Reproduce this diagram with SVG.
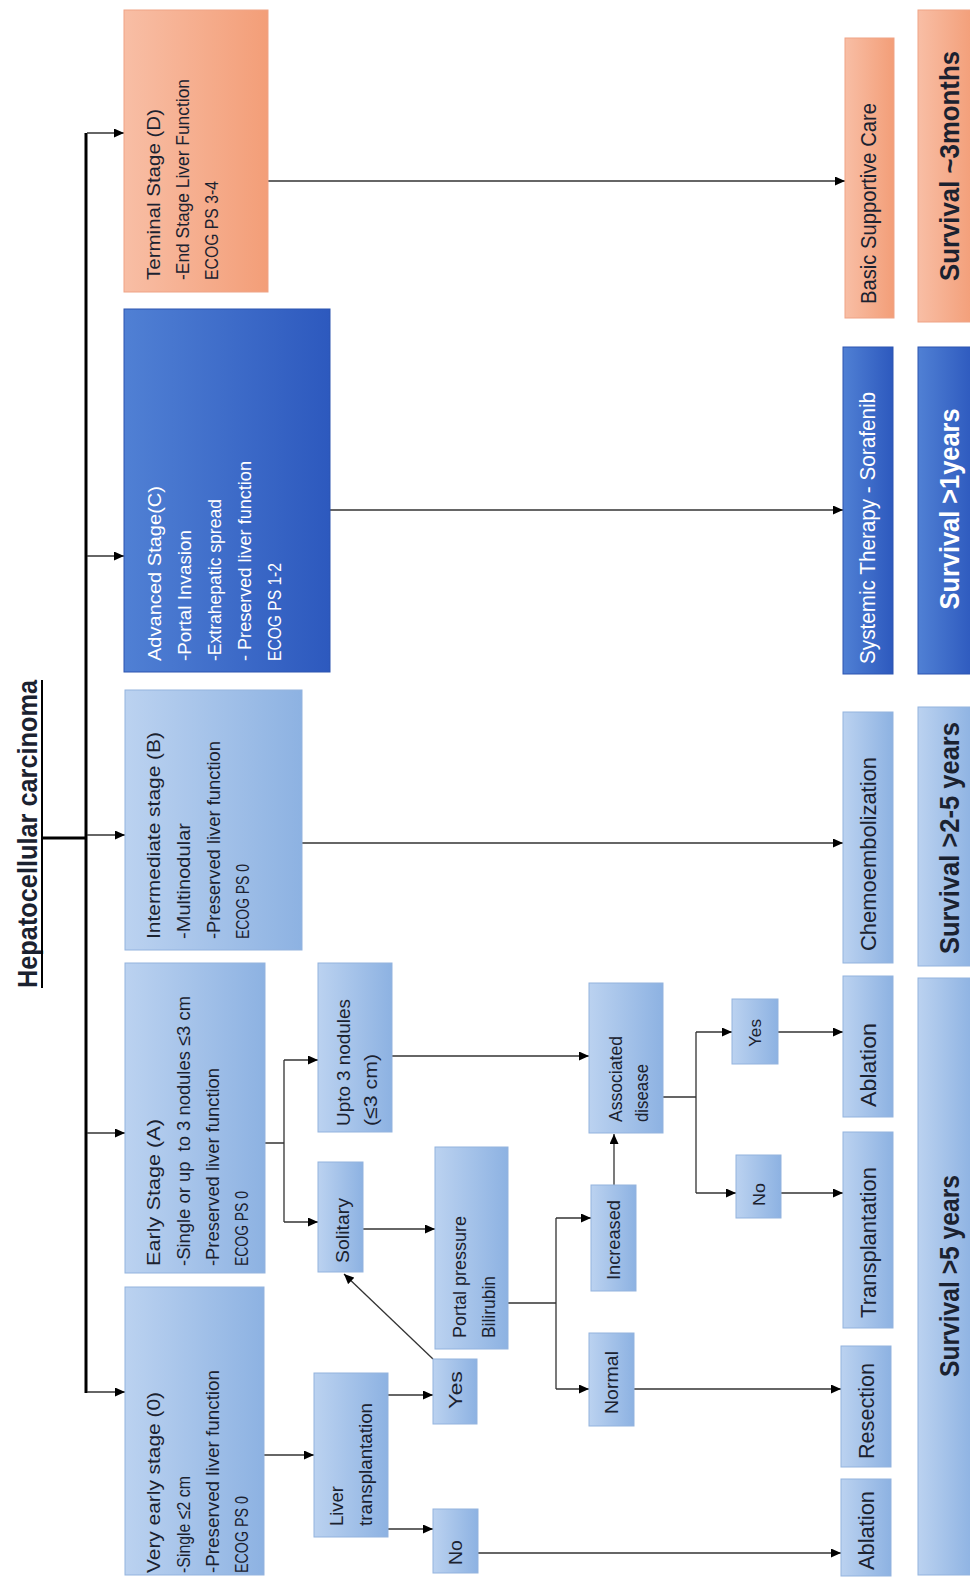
<svg xmlns="http://www.w3.org/2000/svg" width="970" height="1578" viewBox="0 0 970 1578">
<defs>
<linearGradient id="gLight" x1="0" y1="0" x2="1" y2="0"><stop offset="0" stop-color="#BBD2F0"/><stop offset="1" stop-color="#8DB2E2"/></linearGradient>
<linearGradient id="gBlue" x1="0" y1="0" x2="1" y2="0"><stop offset="0" stop-color="#5080D4"/><stop offset="1" stop-color="#2D59BE"/></linearGradient>
<linearGradient id="gSal" x1="0" y1="0" x2="1" y2="0"><stop offset="0" stop-color="#F8BEA5"/><stop offset="1" stop-color="#F39E78"/></linearGradient>
<marker id="ah" markerUnits="userSpaceOnUse" markerWidth="11" markerHeight="9" refX="10" refY="4.5" orient="auto"><path d="M0,0 L10,4.5 L0,9 z" fill="#000"/></marker>
<style>
.bl{fill:url(#gLight);stroke:#93B3DE;stroke-width:1}
.bb{fill:url(#gBlue);stroke:#2D55B0;stroke-width:1}
.bs{fill:url(#gSal);stroke:#EFA386;stroke-width:1}
text{font-family:"Liberation Sans",Arial,sans-serif;font-size:19px;fill:#1B2230}
.w{fill:#FFFFFF}
.tr{font-size:22px}
.sv{font-size:28px;font-weight:bold}
.sm{font-size:17px}
.c{fill:none;stroke:#333;stroke-width:1.3}
.ca{fill:none;stroke:#333;stroke-width:1.3;marker-end:url(#ah)}
</style>
</defs>
<g id="title">
<text transform="translate(37,988) rotate(-90)" style="font-size:28px;font-weight:bold" textLength="308" lengthAdjust="spacingAndGlyphs">Hepatocellular carcinoma</text>
<line x1="42" y1="680" x2="42" y2="988" stroke="#000" stroke-width="2"/>
</g>
<g id="connectors">
<line x1="42" y1="838" x2="86" y2="838" stroke="#000" stroke-width="3"/>
<line x1="86" y1="133" x2="86" y2="1393" stroke="#000" stroke-width="3"/>
<path class="ca" d="M87,133 H124"/>
<path class="ca" d="M87,556 H124"/>
<path class="ca" d="M87,835 H125"/>
<path class="ca" d="M87,1133 H125"/>
<path class="ca" d="M87,1392 H125"/>
<path class="ca" d="M268,181 H845"/>
<path class="ca" d="M330,510 H843"/>
<path class="ca" d="M302,843 H843"/>
<path class="c" d="M265,1143 H284 M284,1060 V1222"/>
<path class="ca" d="M284,1060 H318"/>
<path class="ca" d="M284,1222 H318"/>
<path class="ca" d="M264,1455 H314"/>
<path class="ca" d="M388,1395 H433"/>
<path class="ca" d="M388,1529 H433"/>
<path class="ca" d="M433,1359 L344,1274"/>
<path class="ca" d="M363,1229 H435"/>
<path class="ca" d="M392,1056 H589"/>
<path class="c" d="M508,1303 H556 M556,1218 V1389"/>
<path class="ca" d="M556,1218 H591"/>
<path class="ca" d="M556,1389 H589"/>
<path class="ca" d="M614,1185 V1134"/>
<path class="c" d="M663,1097 H696 M696,1032 V1193"/>
<path class="ca" d="M696,1032 H732"/>
<path class="ca" d="M696,1193 H736"/>
<path class="ca" d="M778,1032 H843"/>
<path class="ca" d="M781,1193 H843"/>
<path class="ca" d="M634,1389 H841"/>
<path class="ca" d="M478,1553 H841"/>
</g>
<g id="terminal">
<rect class="bs" x="124" y="10" width="144" height="282"/>
<text transform="translate(160,280) rotate(-90)" textLength="171" lengthAdjust="spacingAndGlyphs">Terminal Stage (D)</text>
<text transform="translate(189,280) rotate(-90)" textLength="201" lengthAdjust="spacingAndGlyphs">-End Stage Liver Function</text>
<text transform="translate(218,280) rotate(-90)" textLength="99" lengthAdjust="spacingAndGlyphs">ECOG PS 3-4</text>
</g>
<g id="advanced">
<rect class="bb" x="124" y="309" width="206" height="363"/>
<text class="w" transform="translate(161,661) rotate(-90)" textLength="175" lengthAdjust="spacingAndGlyphs">Advanced Stage(C)</text>
<text class="w" transform="translate(191,661) rotate(-90)" textLength="131" lengthAdjust="spacingAndGlyphs">-Portal Invasion</text>
<text class="w" transform="translate(221,661) rotate(-90)" textLength="162" lengthAdjust="spacingAndGlyphs">-Extrahepatic spread</text>
<text class="w" transform="translate(251,661) rotate(-90)" textLength="200" lengthAdjust="spacingAndGlyphs">- Preserved liver function</text>
<text class="w" transform="translate(281,661) rotate(-90)" textLength="98" lengthAdjust="spacingAndGlyphs">ECOG PS 1-2</text>
</g>
<g id="intermediate">
<rect class="bl" x="125" y="690" width="177" height="260"/>
<text transform="translate(160,939) rotate(-90)" textLength="207" lengthAdjust="spacingAndGlyphs">Intermediate stage (B)</text>
<text transform="translate(190,939) rotate(-90)" textLength="116" lengthAdjust="spacingAndGlyphs">-Multinodular</text>
<text transform="translate(220,939) rotate(-90)" textLength="198" lengthAdjust="spacingAndGlyphs">-Preserved liver function</text>
<text transform="translate(249,939) rotate(-90)" textLength="75" lengthAdjust="spacingAndGlyphs">ECOG PS 0</text>
</g>
<g id="early">
<rect class="bl" x="125" y="963" width="140" height="310"/>
<text transform="translate(160,1266) rotate(-90)" textLength="147" lengthAdjust="spacingAndGlyphs">Early Stage (A)</text>
<text transform="translate(190,1266) rotate(-90)" style="white-space:pre" textLength="270" lengthAdjust="spacingAndGlyphs">-Single or up  to 3 nodules ≤3 cm</text>
<text transform="translate(219,1266) rotate(-90)" textLength="198" lengthAdjust="spacingAndGlyphs">-Preserved liver function</text>
<text transform="translate(248,1266) rotate(-90)" textLength="75" lengthAdjust="spacingAndGlyphs">ECOG PS 0</text>
</g>
<g id="veryearly">
<rect class="bl" x="125" y="1287" width="139" height="288"/>
<text transform="translate(160,1573) rotate(-90)" textLength="181" lengthAdjust="spacingAndGlyphs">Very early stage (0)</text>
<text transform="translate(190,1573) rotate(-90)" textLength="97" lengthAdjust="spacingAndGlyphs">-Single ≤2 cm</text>
<text transform="translate(219,1573) rotate(-90)" textLength="203" lengthAdjust="spacingAndGlyphs">-Preserved liver function</text>
<text transform="translate(248,1573) rotate(-90)" textLength="77" lengthAdjust="spacingAndGlyphs">ECOG PS 0</text>
</g>
<g id="upto3">
<rect class="bl" x="318" y="963" width="74" height="169"/>
<text transform="translate(350,1126) rotate(-90)" textLength="127" lengthAdjust="spacingAndGlyphs">Upto 3 nodules</text>
<text transform="translate(377,1126) rotate(-90)" textLength="72" lengthAdjust="spacingAndGlyphs">(≤3 cm)</text>
</g>
<g id="solitary">
<rect class="bl" x="318" y="1162" width="45" height="110"/>
<text transform="translate(349,1263) rotate(-90)" textLength="65" lengthAdjust="spacingAndGlyphs">Solitary</text>
</g>
<g id="livertx">
<rect class="bl" x="314" y="1373" width="74" height="164"/>
<text transform="translate(343,1526) rotate(-90)" textLength="40" lengthAdjust="spacingAndGlyphs">Liver</text>
<text transform="translate(372,1526) rotate(-90)" textLength="123" lengthAdjust="spacingAndGlyphs">transplantation</text>
</g>
<g id="yes1">
<rect class="bl" x="433" y="1359" width="44" height="65"/>
<text transform="translate(462,1409) rotate(-90)" textLength="38" lengthAdjust="spacingAndGlyphs">Yes</text>
</g>
<g id="no1">
<rect class="bl" x="433" y="1509" width="45" height="64"/>
<text transform="translate(462,1565) rotate(-90)" textLength="25" lengthAdjust="spacingAndGlyphs">No</text>
</g>
<g id="portal">
<rect class="bl" x="435" y="1147" width="73" height="202"/>
<text transform="translate(466,1338) rotate(-90)" textLength="122" lengthAdjust="spacingAndGlyphs">Portal pressure</text>
<text transform="translate(495,1338) rotate(-90)" textLength="62" lengthAdjust="spacingAndGlyphs">Bilirubin</text>
</g>
<g id="increased">
<rect class="bl" x="591" y="1185" width="45" height="106"/>
<text transform="translate(620,1280) rotate(-90)" textLength="80" lengthAdjust="spacingAndGlyphs">Increased</text>
</g>
<g id="normal">
<rect class="bl" x="589" y="1333" width="45" height="93"/>
<text transform="translate(618,1414) rotate(-90)" textLength="63" lengthAdjust="spacingAndGlyphs">Normal</text>
</g>
<g id="associated">
<rect class="bl" x="589" y="983" width="74" height="150"/>
<text transform="translate(622,1122) rotate(-90)" textLength="86" lengthAdjust="spacingAndGlyphs">Associated</text>
<text transform="translate(648,1122) rotate(-90)" textLength="58" lengthAdjust="spacingAndGlyphs">disease</text>
</g>
<g id="yes2">
<rect class="bl" x="732" y="999" width="46" height="65"/>
<text class="sm" transform="translate(761,1047) rotate(-90)" textLength="28" lengthAdjust="spacingAndGlyphs">Yes</text>
</g>
<g id="no2">
<rect class="bl" x="736" y="1155" width="45" height="63"/>
<text class="sm" transform="translate(765,1206) rotate(-90)" textLength="23" lengthAdjust="spacingAndGlyphs">No</text>
</g>
<g id="tx-supportive">
<rect class="bs" x="845" y="38" width="49" height="280"/>
<text class="tr" transform="translate(876,304) rotate(-90)" textLength="201" lengthAdjust="spacingAndGlyphs">Basic Supportive Care</text>
</g>
<g id="tx-systemic">
<rect class="bb" x="843" y="347" width="50" height="327"/>
<text class="tr w" transform="translate(875,664) rotate(-90)" textLength="272" lengthAdjust="spacingAndGlyphs">Systemic Therapy - Sorafenib</text>
</g>
<g id="tx-chemo">
<rect class="bl" x="843" y="712" width="50" height="251"/>
<text class="tr" transform="translate(876,951) rotate(-90)" textLength="194" lengthAdjust="spacingAndGlyphs">Chemoembolization</text>
</g>
<g id="tx-ablation1">
<rect class="bl" x="843" y="976" width="50" height="141"/>
<text class="tr" transform="translate(876,1107) rotate(-90)" textLength="84" lengthAdjust="spacingAndGlyphs">Ablation</text>
</g>
<g id="tx-transplant">
<rect class="bl" x="843" y="1132" width="50" height="196"/>
<text class="tr" transform="translate(876,1318) rotate(-90)" textLength="151" lengthAdjust="spacingAndGlyphs">Transplantation</text>
</g>
<g id="tx-resection">
<rect class="bl" x="841" y="1346" width="50" height="121"/>
<text class="tr" transform="translate(874,1459) rotate(-90)" textLength="96" lengthAdjust="spacingAndGlyphs">Resection</text>
</g>
<g id="tx-ablation2">
<rect class="bl" x="841" y="1479" width="50" height="97"/>
<text class="tr" transform="translate(874,1570) rotate(-90)" textLength="79" lengthAdjust="spacingAndGlyphs">Ablation</text>
</g>
<g id="surv-d">
<rect class="bs" x="918" y="10" width="56" height="312"/>
<text class="sv" text-anchor="middle" transform="translate(959,166) rotate(-90)" textLength="230" lengthAdjust="spacingAndGlyphs">Survival ~3months</text>
</g>
<g id="surv-c">
<rect class="bb" x="918" y="347" width="56" height="327"/>
<text class="sv w" text-anchor="middle" transform="translate(959,509) rotate(-90)" textLength="201" lengthAdjust="spacingAndGlyphs">Survival &gt;1years</text>
</g>
<g id="surv-b">
<rect class="bl" x="918" y="707" width="56" height="259"/>
<text class="sv" text-anchor="middle" transform="translate(959,838) rotate(-90)" textLength="232" lengthAdjust="spacingAndGlyphs">Survival &gt;2-5 years</text>
</g>
<g id="surv-a">
<rect class="bl" x="918" y="978" width="56" height="597"/>
<text class="sv" text-anchor="middle" transform="translate(959,1276) rotate(-90)" textLength="202" lengthAdjust="spacingAndGlyphs">Survival &gt;5 years</text>
</g>
</svg>
